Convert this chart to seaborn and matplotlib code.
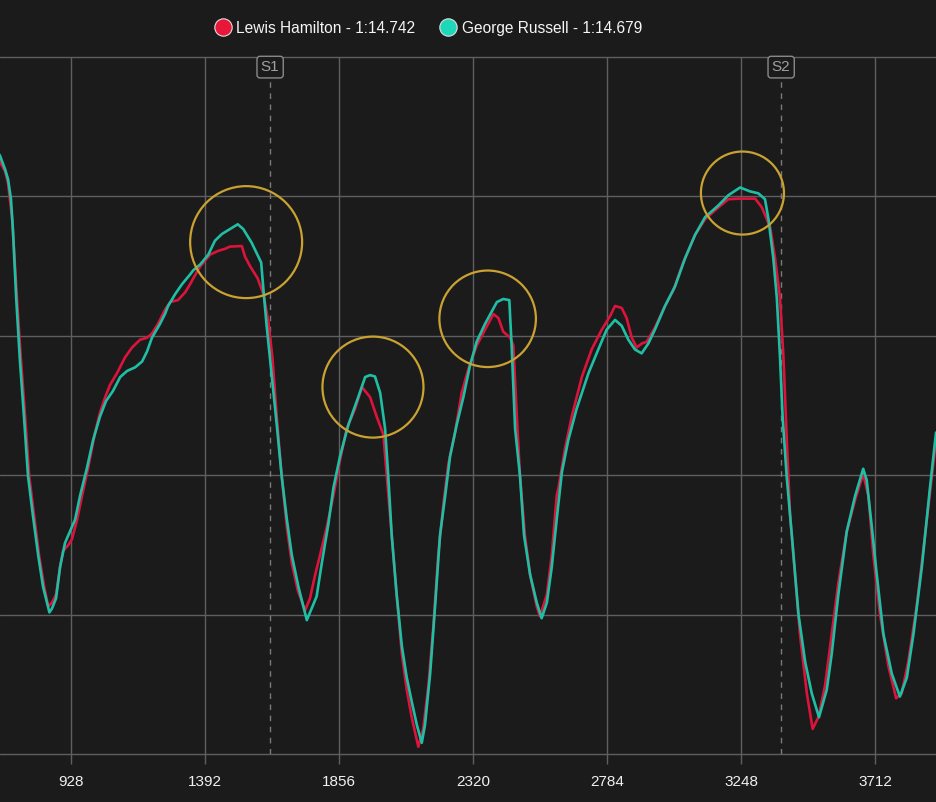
import pandas as pd
import matplotlib.pyplot as plt
import seaborn as sns
from matplotlib.lines import Line2D

# distance (m) / speed (km/h)
ham_dist = [665, 682, 700, 710, 724, 734, 745, 755, 769, 783, 800, 817, 835, 849, 862, 876, 890, 900,
            918, 931, 949, 966, 987, 1011, 1028, 1046, 1063, 1087, 1115, 1139, 1167, 1191, 1208, 1229,
            1253, 1271, 1298, 1323, 1340, 1351, 1375, 1409, 1438, 1461, 1478, 1519, 1530, 1548, 1574,
            1594, 1611, 1625, 1640, 1657, 1675, 1692, 1713, 1738, 1755, 1773, 1790, 1813, 1836, 1859,
            1882, 1911, 1935, 1963, 1986, 2009, 2021, 2038, 2055, 2073, 2090, 2107, 2130, 2147, 2165,
            2182, 2199, 2217, 2234, 2257, 2280, 2303, 2332, 2361, 2390, 2407, 2424, 2448, 2459, 2471,
            2482, 2499, 2517, 2540, 2551, 2575, 2592, 2609, 2615, 2638, 2661, 2696, 2730, 2765, 2794,
            2811, 2834, 2851, 2869, 2886, 2903, 2921, 2949, 2984, 3013, 3047, 3088, 3123, 3169, 3203,
            3244, 3296, 3319, 3348, 3365, 3382, 3394, 3405, 3417, 3434, 3451, 3475, 3495, 3515, 3538,
            3561, 3584, 3613, 3642, 3670, 3688, 3705, 3728, 3757, 3784, 3803, 3826, 3855, 3884, 3922]
ham_speed = [315.9, 312.4, 308.9, 304.6, 291.9, 274.9, 256.4, 240.8, 221.0, 199.7, 185.5, 171.4, 160.0,
             152.9, 154.3, 157.2, 167.1, 172.8, 174.9, 177.0, 184.1, 192.6, 202.6, 215.3, 222.4, 228.0,
             232.4, 236.6, 242.3, 245.8, 248.6, 249.3, 250.8, 254.3, 259.3, 262.1, 262.8, 265.6, 268.5,
             270.6, 274.9, 279.1, 280.5, 281.2, 282.0, 282.2, 278.4, 274.9, 270.6, 264.9, 255.0, 242.3,
             221.0, 199.7, 181.3, 168.5, 158.6, 151.5, 155.8, 164.3, 171.4, 181.3, 192.6, 205.4, 216.7,
             223.8, 231.6, 228.0, 221.0, 214.6, 199.7, 178.4, 157.2, 135.9, 123.1, 113.2, 102.6, 109.0,
             124.6, 145.8, 171.4, 189.8, 204.0, 215.3, 229.5, 238.0, 246.5, 252.2, 257.8, 256.4, 251.5,
             249.3, 246.5, 221.0, 199.7, 178.4, 164.3, 152.9, 149.4, 157.2, 171.4, 192.6, 195.4, 209.6,
             221.0, 235.2, 245.1, 252.2, 257.1, 260.7, 260.0, 256.4, 249.3, 245.8, 247.2, 247.9, 252.9,
             260.7, 266.4, 276.3, 286.2, 291.9, 296.1, 299.0, 299.2, 299.2, 296.1, 289.0, 277.7, 263.6,
             242.3, 213.9, 185.5, 164.3, 143.0, 121.7, 109.0, 113.2, 124.6, 143.0, 161.4, 179.8, 191.2,
             200.4, 192.6, 171.4, 150.1, 131.6, 120.0, 121.7, 133.1, 152.9, 178.4, 212.5]

rus_dist = [665, 682, 700, 710, 720, 727, 738, 751, 765, 779, 796, 814, 831, 853, 862, 876, 890, 907,
            925, 942, 959, 983, 1004, 1028, 1049, 1073, 1098, 1122, 1150, 1174, 1191, 1208, 1236, 1253,
            1264, 1288, 1312, 1340, 1351, 1375, 1403, 1426, 1450, 1472, 1505, 1524, 1553, 1586, 1594,
            1605, 1623, 1640, 1657, 1675, 1692, 1715, 1732, 1744, 1761, 1778, 1796, 1819, 1836, 1859,
            1888, 1922, 1946, 1963, 1980, 1998, 2015, 2026, 2038, 2055, 2073, 2090, 2107, 2125, 2142,
            2153, 2171, 2188, 2205, 2223, 2240, 2263, 2286, 2309, 2332, 2361, 2402, 2424, 2445, 2453,
            2465, 2482, 2496, 2517, 2540, 2557, 2575, 2592, 2609, 2627, 2649, 2678, 2719, 2753, 2782,
            2811, 2834, 2857, 2880, 2903, 2926, 2949, 2984, 3019, 3053, 3088, 3123, 3169, 3203, 3244,
            3278, 3307, 3330, 3342, 3359, 3371, 3382, 3391, 3405, 3423, 3446, 3469, 3492, 3517, 3544,
            3561, 3584, 3613, 3642, 3670, 3682, 3700, 3717, 3740, 3769, 3797, 3821, 3844, 3873, 3901,
            3922]
rus_speed = [317.4, 314.6, 309.6, 306.1, 299.0, 287.6, 263.6, 241.0, 221.0, 199.7, 185.5, 171.4, 160.0,
             150.8, 152.2, 155.8, 167.1, 175.7, 180.0, 184.1, 192.6, 202.6, 212.5, 221.0, 226.6, 230.2,
             235.2, 237.4, 238.7, 240.8, 244.4, 249.3, 254.3, 257.8, 260.7, 264.9, 268.5, 272.0, 273.5,
             275.6, 279.1, 284.1, 286.5, 287.9, 290.0, 288.3, 283.4, 276.3, 266.4, 253.6, 235.2, 218.1,
             199.7, 184.1, 171.4, 160.0, 152.9, 148.0, 152.2, 156.5, 168.5, 182.7, 195.4, 206.8, 218.1,
             228.0, 235.2, 235.9, 235.4, 229.5, 216.7, 199.7, 178.4, 157.2, 138.7, 127.4, 118.9, 110.4,
             104.0, 110.4, 128.8, 152.9, 178.4, 192.6, 206.8, 218.1, 228.0, 239.4, 247.9, 254.3, 262.1,
             263.2, 262.8, 246.5, 216.7, 199.7, 178.4, 164.3, 154.3, 148.7, 154.3, 167.1, 184.1, 201.1,
             212.5, 223.8, 236.6, 245.1, 252.2, 255.7, 253.6, 248.6, 245.1, 243.7, 247.2, 252.2, 260.7,
             267.8, 277.7, 286.2, 292.6, 296.8, 300.4, 303.2, 301.8, 301.1, 299.0, 291.9, 277.7, 263.6,
             242.3, 221.0, 199.7, 178.4, 150.1, 133.1, 121.7, 113.2, 123.1, 135.9, 157.2, 179.8, 192.6,
             202.3, 198.3, 181.3, 164.3, 143.0, 128.8, 120.6, 127.4, 143.0, 167.1, 195.4, 215.3]

drivers = ['Lewis Hamilton - 1:14.742', 'George Russell - 1:14.679']
line_colors = ['#dc143c', '#1fbfa6']
dot_colors = ['#e8173a', '#1ed6b8']

sector_names = ['S1', 'S2']
sector_dist = [1617, 3386]

# highlighted spots (gold rings)
ring_dist = [1534, 1973, 2370, 3252]
ring_speed = [283.6, 231.6, 256.1, 301.2]
ring_size = [6500, 5290, 4830, 3575]

xticks = [928, 1392, 1856, 2320, 2784, 3248, 3712]
yticks = [100, 150, 200, 250, 300, 350]

df = pd.concat([
    pd.DataFrame({'distance': ham_dist, 'speed': ham_speed, 'driver': drivers[0]}),
    pd.DataFrame({'distance': rus_dist, 'speed': rus_speed, 'driver': drivers[1]}),
])

bg = '#1b1b1b'
sns.set_theme(style='dark', rc={'axes.facecolor': bg, 'figure.facecolor': bg})
plt.rcParams['font.family'] = ['Liberation Sans', 'DejaVu Sans']

fig = plt.figure(figsize=(9.36, 8.02), dpi=100)
ax = fig.add_axes([0, 48 / 802, 1, 697 / 802])

sns.lineplot(data=df, x='distance', y='speed', hue='driver', hue_order=drivers,
             palette=dict(zip(drivers, line_colors)), linewidth=1.9, sort=False,
             estimator=None, legend=False, ax=ax)

ax.scatter(ring_dist, ring_speed, s=ring_size, facecolors='none', edgecolors='#c9a232',
           linewidths=1.6, zorder=4)

for name, d in zip(sector_names, sector_dist):
    ax.axvline(d, ymin=0, ymax=0.972, color='#7a7a7a', lw=1, ls=(0, (4, 4)), zorder=1)
    ax.text(d, 0.9855, name, transform=ax.get_xaxis_transform(), ha='center', va='center',
            color='#a0a0a0', fontsize=11,
            bbox=dict(boxstyle='round,pad=0.25,rounding_size=0.2', fc=bg, ec='#8a8a8a', lw=1))

ax.set_xlim(682, 3922)
ax.set_ylim(100, 350)
ax.set_xticks(xticks)
ax.set_yticks(yticks)
ax.set_xlabel('')
ax.set_ylabel('')
ax.grid(True, color='#5f5f5f', lw=1)
ax.set_axisbelow(True)
for gl in ax.get_ygridlines():
    gl.set_clip_on(False)
for s in ax.spines.values():
    s.set_visible(False)
ax.tick_params(axis='x', bottom=True, length=7, width=1, color='#5f5f5f', pad=8,
               labelsize=11, labelcolor='#f0f0f0')
ax.tick_params(axis='y', left=False, labelleft=False)

handles = [Line2D([], [], ls='none', marker='o', markersize=12.5, markerfacecolor=c,
                  markeredgecolor='#e0e0e0', markeredgewidth=0.8) for c in dot_colors]
fig.legend(handles, drivers, loc='center', bbox_to_anchor=(0.458, 0.965), ncol=2, frameon=False,
           fontsize=11.2, labelcolor='#f5f5f5', handlelength=0.9, handletextpad=0.4,
           columnspacing=1.7)

fig.savefig('out.png', dpi=100, facecolor=bg)
